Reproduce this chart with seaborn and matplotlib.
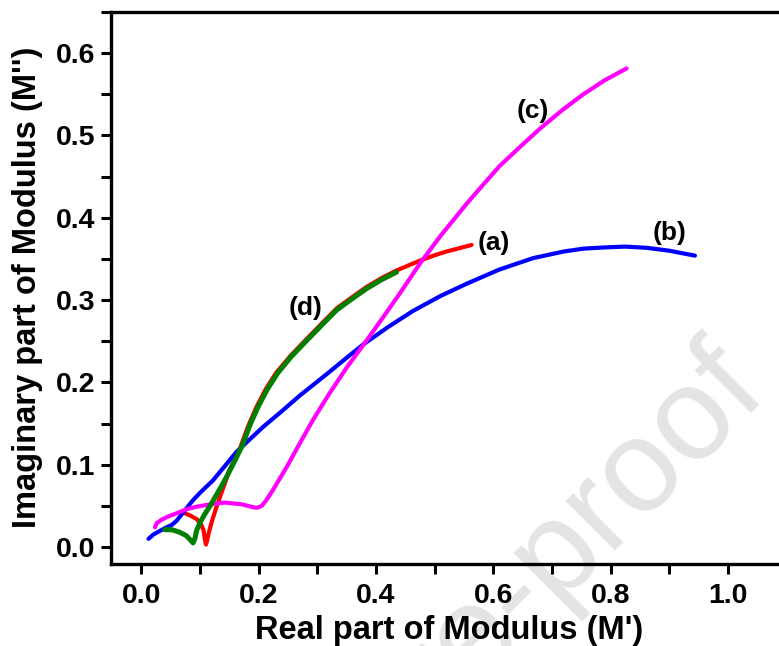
import numpy as np
import pandas as pd
import matplotlib
matplotlib.use("Agg")
import matplotlib.pyplot as plt
import seaborn as sns
from matplotlib.ticker import MultipleLocator

# ---- data ----
a_x = [0.074, 0.084, 0.094, 0.102, 0.106, 0.108, 0.110, 0.112, 0.115, 0.120, 0.128, 0.140, 0.151, 0.160,
       0.168, 0.182, 0.196, 0.212, 0.230, 0.255, 0.282, 0.308, 0.333, 0.360, 0.384, 0.410, 0.435, 0.455,
       0.475, 0.498, 0.520, 0.542, 0.563]
a_y = [0.041, 0.038, 0.034, 0.027, 0.020, 0.010, 0.003, 0.008, 0.018, 0.031, 0.049, 0.073, 0.095, 0.108,
       0.120, 0.147, 0.170, 0.192, 0.212, 0.233, 0.253, 0.272, 0.290, 0.304, 0.316, 0.327, 0.336, 0.342,
       0.348, 0.354, 0.359, 0.363, 0.367]

b_x = [0.012, 0.020, 0.031, 0.043, 0.052, 0.060, 0.070, 0.080, 0.088, 0.100, 0.122, 0.140, 0.162, 0.185,
       0.2075, 0.236, 0.270, 0.300, 0.321, 0.350, 0.378, 0.420, 0.4635, 0.510, 0.555, 0.610, 0.668, 0.720,
       0.7535, 0.790, 0.825, 0.862, 0.900, 0.944]
b_y = [0.010, 0.015, 0.0195, 0.024, 0.027, 0.032, 0.041, 0.050, 0.057, 0.066, 0.081, 0.0965, 0.1155, 0.131,
       0.146, 0.163, 0.184, 0.201, 0.213, 0.230, 0.246, 0.267, 0.287, 0.305, 0.320, 0.337, 0.351, 0.359,
       0.3625, 0.364, 0.365, 0.3635, 0.360, 0.354]

c_x = [0.023, 0.026, 0.034, 0.045, 0.060, 0.077, 0.094, 0.110, 0.128, 0.142, 0.156, 0.170, 0.182, 0.192,
       0.199, 0.205, 0.213, 0.224, 0.2475, 0.270, 0.293, 0.320, 0.350, 0.384, 0.410, 0.4405, 0.475, 0.510,
       0.5545, 0.585, 0.611, 0.650, 0.680, 0.718, 0.7535, 0.790, 0.8275]
c_y = [0.024, 0.029, 0.033, 0.037, 0.041, 0.046, 0.049, 0.051, 0.053, 0.054, 0.053, 0.052, 0.050, 0.048,
       0.048, 0.050, 0.057, 0.069, 0.097, 0.126, 0.155, 0.186, 0.218, 0.251, 0.277, 0.308, 0.3445, 0.378,
       0.417, 0.442, 0.463, 0.489, 0.5085, 0.531, 0.550, 0.567, 0.5815]

d_x = [0.040, 0.052, 0.065, 0.076, 0.083, 0.088, 0.091, 0.094, 0.100, 0.108, 0.117, 0.130, 0.145, 0.160,
       0.173, 0.186, 0.200, 0.215, 0.232, 0.255, 0.282, 0.308, 0.333, 0.360, 0.384, 0.410, 0.435]
d_y = [0.021, 0.021, 0.018, 0.014, 0.009, 0.005, 0.010, 0.020, 0.030, 0.040, 0.050, 0.066, 0.085, 0.106,
       0.125, 0.150, 0.172, 0.192, 0.211, 0.231, 0.251, 0.270, 0.288, 0.302, 0.314, 0.325, 0.334]

curve_labels = ["(a)", "(b)", "(c)", "(d)"]
label_pos_x = [0.601, 0.900, 0.668, 0.280]
label_pos_y = [0.369, 0.382, 0.530, 0.290]

x_ticks = [0.0, 0.2, 0.4, 0.6, 0.8, 1.0]
y_ticks = [0.0, 0.1, 0.2, 0.3, 0.4, 0.5, 0.6]

# ---- figure ----
sns.set_style("ticks")
plt.rcParams['font.family'] = ['Liberation Sans', 'DejaVu Sans']
plt.rcParams['font.weight'] = 'bold'
for k in ["text.color", "axes.labelcolor", "xtick.color", "ytick.color", "axes.edgecolor"]:
    plt.rcParams[k] = "black"

fig = plt.figure(figsize=(7.79, 6.46), dpi=100)
ax_left = 111 / 779
ax_bottom = (646 - 563.5) / 646
ax_top = (646 - 12) / 646
ax_right = 786.4 / 779
ax = fig.add_axes([ax_left, ax_bottom, ax_right - ax_left, ax_top - ax_bottom])

# watermark
fig.text(0.495, -0.1336, "Journal Pre-proof", fontsize=95, color="#e4e4e4",
         rotation=45, rotation_mode="anchor", ha="center", va="center",
         fontweight="normal", zorder=-1)
ax.set_facecolor("none")

series = [
    (a_x, a_y, "#ff0000", 3.0),
    (b_x, b_y, "#0000ff", 3.0),
    (c_x, c_y, "#ff00ff", 3.0),
    (d_x, d_y, "#008000", 3.6),
]
for xs, ys, col, lw in series:
    df = pd.DataFrame({"x": xs, "y": ys})
    sns.lineplot(data=df, x="x", y="y", sort=False, estimator=None, color=col,
                 linewidth=lw, ax=ax, solid_capstyle="round", solid_joinstyle="round")

for lab, lx, ly in zip(curve_labels, label_pos_x, label_pos_y):
    ax.text(lx, ly, lab, fontsize=19, fontweight="bold", ha="center", va="center", color="black")

ax.set_xlim(-0.052, 1.1)
ax.set_ylim(-0.020, 0.650)
ax.set_xticks(x_ticks)
ax.set_yticks(y_ticks)
ax.set_xticklabels([f"{v:.1f}" for v in x_ticks])
ax.set_yticklabels([f"{v:.1f}" for v in y_ticks])
ax.xaxis.set_minor_locator(MultipleLocator(0.1))
ax.yaxis.set_minor_locator(MultipleLocator(0.05))
ax.tick_params(which="both", direction="out", length=7, width=2.2, color="black")
ax.tick_params(axis="both", which="major", labelsize=20.5, pad=4, labelcolor="black")
ax.tick_params(axis="x", which="major", pad=7)
for lab in ax.get_xticklabels() + ax.get_yticklabels():
    lab.set_fontweight("bold")

for side in ["left", "bottom", "top", "right"]:
    ax.spines[side].set_linewidth(2.4)
    ax.spines[side].set_color("black")
    ax.spines[side].set_visible(True)

ax.set_xlabel("Real part of Modulus (M')", fontsize=23.5, fontweight="bold", color="black")
ax.set_ylabel("Imaginary part of Modulus (M'')", fontsize=23.5, fontweight="bold", color="black")
ax.xaxis.set_label_coords(0.5, -0.1206)
ax.xaxis.label.set_verticalalignment("center")
ax.yaxis.set_label_coords(-0.1229, 0.5)
ax.yaxis.label.set_verticalalignment("center")

fig.savefig("out.png", dpi=100)
